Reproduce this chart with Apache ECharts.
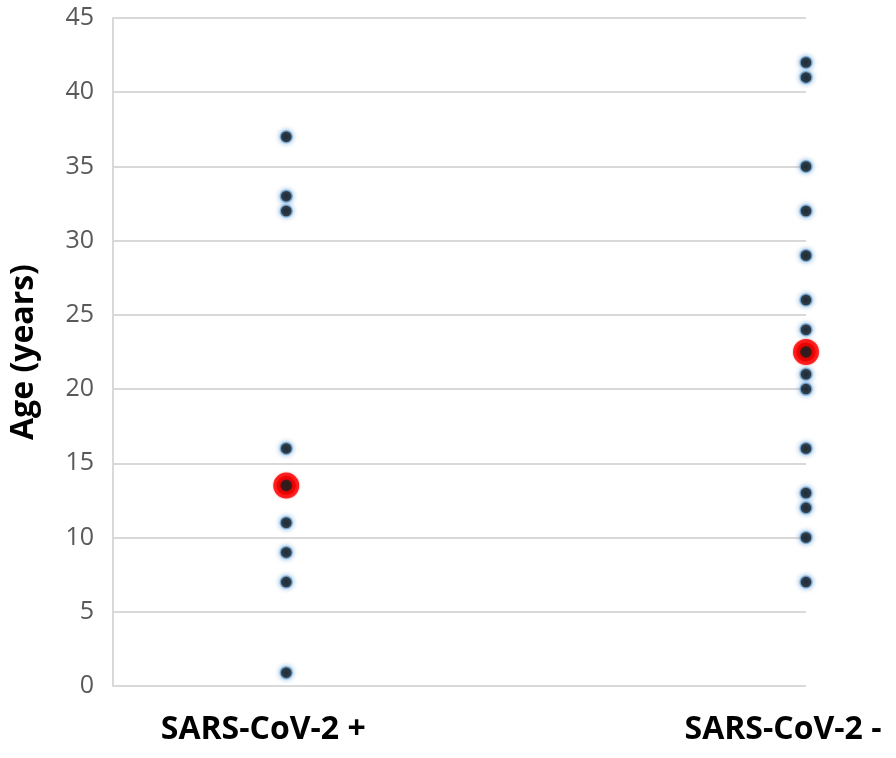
<!DOCTYPE html>
<html>
<head>
<meta charset="utf-8">
<script src="https://cdn.jsdelivr.net/npm/echarts@6/dist/echarts.min.js"></script>
<style>html,body{margin:0;padding:0;background:#fff}#c{width:896px;height:758px}</style>
</head>
<body>
<div id="c"></div>
<script>
const categories = ['SARS-CoV-2 +', 'SARS-CoV-2 -'];
const categoryX = [1, 4];
const positiveAges = [37, 33, 32, 16, 11, 9, 7, 0.9];
const negativeAges = [42, 41, 35, 32, 29, 26, 24, 21, 20, 16, 13, 12, 10, 7];
const medians = [13.5, 22.5];
const yTicks = [0, 5, 10, 15, 20, 25, 30, 35, 40, 45];

const pts = [];
positiveAges.forEach(v => pts.push([categoryX[0], v]));
negativeAges.forEach(v => pts.push([categoryX[1], v]));
const medPts = medians.map((v, i) => [categoryX[i], v]);

const chart = echarts.init(document.getElementById('c'));
chart.setOption({
  animation: false,
  grid: { left: 111, right: 90, top: 18, bottom: 72 },
  xAxis: {
    type: 'value', min: 0, max: 4,
    axisLine: { show: false }, axisTick: { show: false }, splitLine: { show: false },
    axisLabel: {
      customValues: categoryX,
      showMinLabel: true, showMaxLabel: true,
      formatter: v => categories[categoryX.indexOf(v)] || '',
      fontFamily: 'Open Sans', fontWeight: 'bold', fontSize: 32, color: '#000',
      margin: 28, padding: [0, 46, 0, 0]
    }
  },
  yAxis: {
    type: 'value', min: 0, max: 45, interval: 5,
    name: 'Age (years)', nameLocation: 'middle', nameGap: 73, nameRotate: 90,
    nameTextStyle: { fontFamily: 'Open Sans', fontWeight: 'bold', fontSize: 32, color: '#000' },
    axisLine: { show: true, lineStyle: { color: '#d9d9d9', width: 2 } },
    axisTick: { show: false },
    axisLabel: { fontFamily: 'Open Sans', fontSize: 25, color: '#595959', margin: 19,
      formatter: v => yTicks.includes(v) ? String(v) : '' },
    splitLine: { lineStyle: { color: '#d9d9d9', width: 2 } }
  },
  series: [
    {
      type: 'scatter', data: pts, symbolSize: 12,
      itemStyle: { color: '#000', borderColor: '#7fb0dc', borderWidth: 1.5,
        shadowBlur: 5, shadowColor: 'rgba(91,155,213,0.8)' },
      z: 2
    },
    {
      type: 'scatter', data: medPts, symbolSize: 19,
      itemStyle: { color: '#000', borderColor: '#ff0000', borderWidth: 7,
        shadowBlur: 2, shadowColor: 'rgba(255,0,0,0.6)' },
      z: 3
    }
  ]
});
</script>
</body>
</html>
